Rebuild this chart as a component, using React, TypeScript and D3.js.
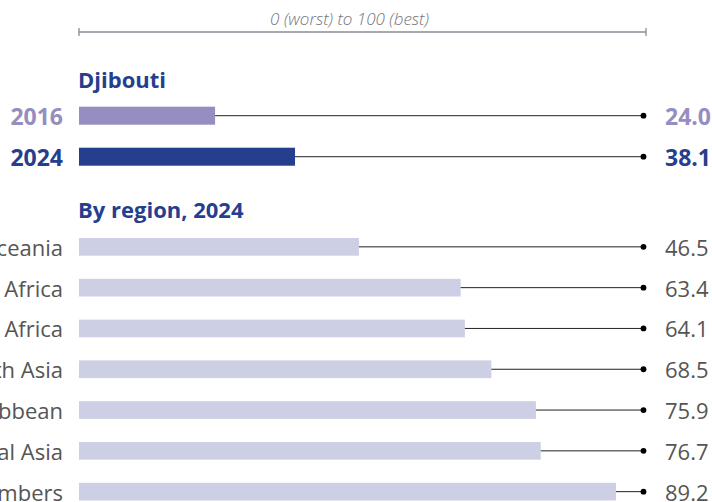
import React from 'react'
import * as d3 from 'd3'

// Djibouti comparison rows
const countryYears = ['2016', '2024']
const countryValues = [24.0, 38.1]

// regional averages, 2024
const regions = [
  'Oceania',
  'Sub-Saharan Africa',
  'Middle East & North Africa',
  'East & South Asia',
  'Latin America & the Caribbean',
  'Eastern Europe & Central Asia',
  'OECD members',
]
const regionValues = [46.5, 63.4, 64.1, 68.5, 75.9, 76.7, 89.2]

const W = 712
const H = 502
const font = '"Open Sans", "Noto Sans", sans-serif'
const yearColors = ['#968dc0', '#253f8e']
const dark = '#253f8e'

export default function App() {
  const x = d3.scaleLinear().domain([0, 100]).range([79, 646])
  // regional bars are drawn a little wider in the source
  const xr = d3.scaleLinear().domain([0, 100]).range([79, 681])
  const dotX = 643.5

  const yc = d3.scaleBand().domain(countryYears).range([95.2, 177.2]).paddingInner(0.561).paddingOuter(0.28)
  const yr = d3.scaleBand().domain(regions).range([226.45, 512.05]).paddingInner(0.566).paddingOuter(0.283)

  return (
    <svg width={W} height={H} style={{ position: 'absolute', left: 0, top: 0, fontFamily: font }}>
      <rect width={W} height={H} fill="#fff" />

      {/* scale note */}
      <text x={(x(0) + x(100)) / 2 - 13} y={25} textAnchor="middle" fontSize={17} fontStyle="italic" fontWeight={300} fill="#74747c">
        0 (worst) to 100 (best)
      </text>
      <g stroke="#8a8d96" strokeWidth={1.3}>
        <line x1={x(0)} x2={x(100)} y1={32} y2={32} />
        <line x1={x(0)} x2={x(0)} y1={28} y2={36} />
        <line x1={x(100)} x2={x(100)} y1={28} y2={36} />
      </g>

      <text x={78} y={87.5} fontSize={22} fontWeight={700} fill={dark}>Djibouti</text>

      {countryYears.map((yr0, i) => {
        const y = yc(yr0)!
        const bh = yc.bandwidth()
        const cy = y + bh / 2
        return (
          <g key={yr0}>
            <text x={63} y={cy + 9} textAnchor="end" fontSize={23} fontWeight={700} fill={yearColors[i]}>{yr0}</text>
            <rect x={x(0)} y={y} width={x(countryValues[i]) - x(0)} height={bh} fill={yearColors[i]} />
            <line x1={x(countryValues[i])} x2={dotX} y1={cy} y2={cy} stroke="#222" strokeWidth={1} />
            <circle cx={dotX} cy={cy} r={2.9} fill="#000" />
            <text x={665} y={cy + 9} fontSize={23} fontWeight={700} fill={yearColors[i]}>{countryValues[i].toFixed(1)}</text>
          </g>
        )
      })}

      <text x={78} y={218} fontSize={22} fontWeight={700} fill={dark}>By region, 2024</text>

      {regions.map((r, i) => {
        const y = yr(r)!
        const bh = yr.bandwidth()
        const cy = y + bh / 2
        return (
          <g key={r}>
            <text x={63} y={cy + 9} textAnchor="end" fontSize={22} fill="#555">{r}</text>
            <rect x={xr(0)} y={y} width={xr(regionValues[i]) - xr(0)} height={bh} fill="#cdd0e5" />
            <line x1={xr(regionValues[i])} x2={dotX} y1={cy} y2={cy} stroke="#222" strokeWidth={1} />
            <circle cx={dotX} cy={cy} r={2.9} fill="#000" />
            <text x={665} y={cy + 9} fontSize={22} fill="#555">{regionValues[i].toFixed(1)}</text>
          </g>
        )
      })}
    </svg>
  )
}
